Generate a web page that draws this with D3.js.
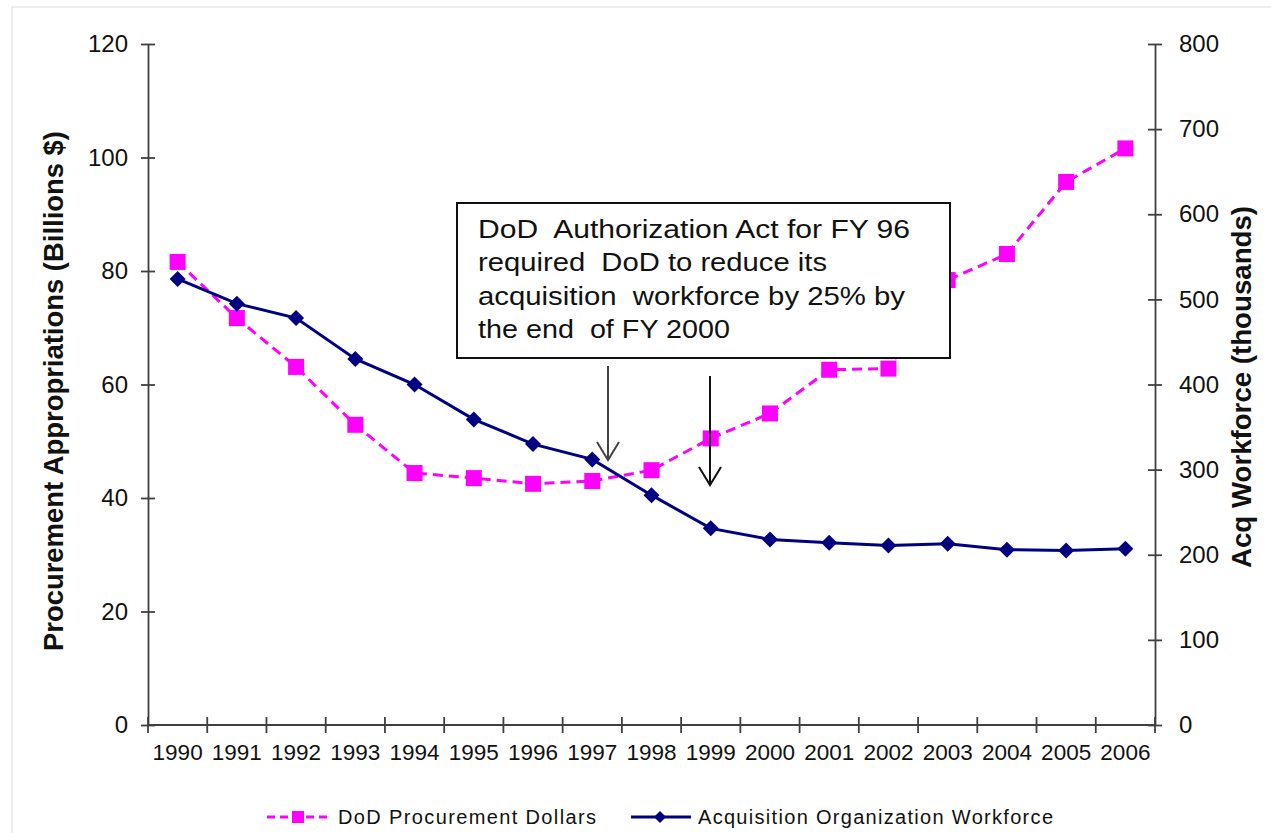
<!DOCTYPE html>
<html>
<head>
<meta charset="utf-8">
<script src="https://cdn.jsdelivr.net/npm/d3@7"></script>
<style>
  html, body { margin: 0; padding: 0; background: #fff; }
  svg { display: block; font-family: "Liberation Sans", Arial, sans-serif; }
</style>
</head>
<body>
<svg id="chart" width="1271" height="833"></svg>
<script>
// ---- data ----
const years = ["1990","1991","1992","1993","1994","1995","1996","1997","1998","1999","2000","2001","2002","2003","2004","2005","2006"];
const procurementDollars = [81.6, 71.7, 63.1, 52.9, 44.4, 43.5, 42.5, 43.0, 44.9, 50.5, 54.9, 62.6, 62.8, 78.4, 83.0, 95.7, 101.6];
const acqWorkforce = [524, 495, 478, 430, 400, 359, 330, 312, 270, 231, 218, 214, 211, 213, 206, 205, 207];
const leftTicks = [0, 20, 40, 60, 80, 100, 120];
const rightTicks = [0, 100, 200, 300, 400, 500, 600, 700, 800];
const seriesNames = ["DoD Procurement Dollars", "Acquisition Organization Workforce"];
const leftTitle = "Procurement Appropriations (Billions $)";
const rightTitle = "Acq Workforce (thousands)";
const noteLines = ["DoD  Authorization Act for FY 96", "required  DoD to reduce its", "acquisition  workforce by 25% by", "the end  of FY 2000"];

const pink = "#ff00ff", navy = "#000080", axisCol = "#404040";

const svg = d3.select("#chart");

// faint outer frame
svg.append("rect").attr("x", 12).attr("y", 7).attr("width", 1300).attr("height", 900)
  .attr("fill", "none").attr("stroke", "#dcdcdc").attr("stroke-width", 1);

const x = d3.scaleBand().domain(years).range([148, 1155]).padding(0);
const cx = d => x(d) + x.bandwidth() / 2;
const yL = d3.scaleLinear().domain([0, 120]).range([725, 44]);
const yR = d3.scaleLinear().domain([0, 800]).range([725, 44]);

// left axis
const gL = svg.append("g").attr("transform", "translate(148,0)")
  .call(d3.axisLeft(yL).tickValues(leftTicks).tickSize(7).tickPadding(13).tickSizeOuter(0));
gL.selectAll(".tick line").attr("x1", -7).attr("x2", 7);
// right axis
const gR = svg.append("g").attr("transform", "translate(1155,0)")
  .call(d3.axisRight(yR).tickValues(rightTicks).tickSize(7).tickPadding(17).tickSizeOuter(0));
gR.selectAll(".tick line").attr("x1", -7).attr("x2", 7);
// bottom axis (labels centred on categories)
const gB = svg.append("g").attr("transform", "translate(0,725)")
  .call(d3.axisBottom(x).tickSize(0).tickPadding(19).tickSizeOuter(0));
// category boundary ticks
const bounds = years.map(d => x(d)).concat([x.range()[1]]);
gB.selectAll(".btick").data(bounds).join("line").attr("class", "btick")
  .attr("x1", d => d).attr("x2", d => d).attr("y1", -8).attr("y2", 8);

[gL, gR, gB].forEach(g => {
  g.attr("font-family", '"Liberation Sans", Arial, sans-serif');
  g.selectAll(".domain").attr("stroke", axisCol).attr("stroke-width", 1.8);
  g.selectAll("line").attr("stroke", axisCol).attr("stroke-width", 1.8);
  g.selectAll("text").attr("fill", "#111");
});
gL.attr("font-size", 24);
gR.attr("font-size", 24);
gB.attr("font-size", 22.5);
gB.selectAll(".domain").attr("d", "M148,0H1155");

// axis titles
svg.append("text").attr("transform", "translate(63,391) rotate(-90)")
  .attr("text-anchor", "middle").attr("font-weight", "bold").attr("font-size", 27)
  .attr("fill", "#111").attr("textLength", 520).attr("lengthAdjust", "spacingAndGlyphs")
  .text(leftTitle);
svg.append("text").attr("transform", "translate(1251,387) rotate(-90)")
  .attr("text-anchor", "middle").attr("font-weight", "bold").attr("font-size", 27)
  .attr("fill", "#111").attr("textLength", 362).attr("lengthAdjust", "spacingAndGlyphs")
  .text(rightTitle);

// series lines
const lineL = d3.line().x((d, i) => cx(years[i])).y(d => yL(d));
const lineR = d3.line().x((d, i) => cx(years[i])).y(d => yR(d));

svg.append("path").datum(procurementDollars).attr("d", lineL)
  .attr("fill", "none").attr("stroke", pink).attr("stroke-width", 3).attr("stroke-dasharray", "10,6");
svg.selectAll(".sq").data(procurementDollars).join("rect").attr("class", "sq")
  .attr("x", (d, i) => cx(years[i]) - 8).attr("y", d => yL(d) - 8)
  .attr("width", 16).attr("height", 16).attr("fill", pink);

svg.append("path").datum(acqWorkforce).attr("d", lineR)
  .attr("fill", "none").attr("stroke", navy).attr("stroke-width", 3);
const diamond = s => `M0,${-s}L${s},0L0,${s}L${-s},0Z`;
svg.selectAll(".dm").data(acqWorkforce).join("path").attr("class", "dm")
  .attr("transform", (d, i) => `translate(${cx(years[i])},${yR(d)})`)
  .attr("d", diamond(8)).attr("fill", navy);

// arrows
function arrow(x0, y0, y1, col) {
  const g = svg.append("g").attr("stroke", col).attr("stroke-width", 2).attr("fill", "none");
  g.append("line").attr("x1", x0).attr("x2", x0).attr("y1", y0).attr("y2", y1);
  g.append("path").attr("d", `M${x0 - 11},${y1 - 18}L${x0},${y1}L${x0 + 11},${y1 - 18}`);
}
arrow(608, 366, 460, "#444");
arrow(710, 376, 485, "#111");

// annotation box
svg.append("rect").attr("x", 457).attr("y", 203).attr("width", 493).attr("height", 155)
  .attr("fill", "#fff").attr("stroke", "#111").attr("stroke-width", 2);
const noteWidths = [432, 349, 427, 252];
svg.selectAll(".note").data(noteLines).join("text").attr("class", "note")
  .attr("x", 478).attr("y", (d, i) => 238 + i * 33.4)
  .attr("font-size", 25).attr("fill", "#111")
  .attr("textLength", (d, i) => noteWidths[i]).attr("lengthAdjust", "spacingAndGlyphs")
  .style("white-space", "pre")
  .text(d => d);

// legend
const lg = svg.append("g");
lg.append("line").attr("x1", 267).attr("x2", 331).attr("y1", 817).attr("y2", 817)
  .attr("stroke", pink).attr("stroke-width", 3).attr("stroke-dasharray", "8,5");
lg.append("rect").attr("x", 292).attr("y", 811).attr("width", 12).attr("height", 12).attr("fill", pink);
lg.append("text").attr("x", 338).attr("y", 824).attr("font-size", 20).attr("fill", "#111")
  .attr("textLength", 258).attr("lengthAdjust", "spacing").text(seriesNames[0]);
lg.append("line").attr("x1", 631).attr("x2", 691).attr("y1", 817).attr("y2", 817)
  .attr("stroke", navy).attr("stroke-width", 3);
lg.append("path").attr("transform", "translate(660,817)").attr("d", diamond(6)).attr("fill", navy);
lg.append("text").attr("x", 698).attr("y", 824).attr("font-size", 20).attr("fill", "#111")
  .attr("textLength", 355).attr("lengthAdjust", "spacing").text(seriesNames[1]);
</script>
</body>
</html>
